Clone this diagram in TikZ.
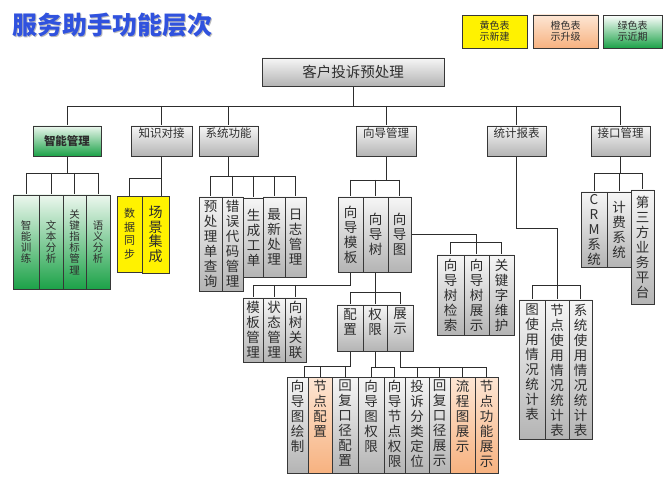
\documentclass[tikz,border=0pt]{standalone}
\usepackage{fontspec}
\setmainfont{Noto Sans CJK SC}
\usetikzlibrary{shadows,backgrounds}
\definecolor{titleblue}{RGB}{48,82,222}
\definecolor{gTop}{RGB}{246,246,246}
\definecolor{gBot}{RGB}{180,180,180}
\definecolor{grTop}{RGB}{236,247,238}
\definecolor{grBot}{RGB}{28,162,72}
\definecolor{oTop}{RGB}{253,230,212}
\definecolor{oBot}{RGB}{247,178,128}
\definecolor{boxline}{RGB}{55,55,55}
\definecolor{lineC}{RGB}{45,45,45}
\definecolor{txt}{RGB}{45,45,45}
\newcommand\fs[2]{\fontsize{#1}{#2}\selectfont}
\newcommand\mybox[6]{\node[#2, minimum width={(#5)-(#3)}, minimum height={(#6)-(#4)}] (#1) at (#3,#4) {};}
\newcommand\ctext[3]{\node[#2] (#1t) at (#1.center) {#3};}
\newcommand\ttext[4]{\node[#2, anchor=north] (#1t) at ([yshift=-#3pt]#1.north) {#4};}
\begin{document}
\begin{tikzpicture}[x=1pt,y=-1pt,
 bx/.style={draw=boxline, line width=0.8pt, inner sep=0pt, outer sep=0pt, anchor=north west,
   drop shadow={shadow xshift=1.2pt, shadow yshift=-1.2pt, opacity=0.3}},
 gbx/.style={bx, top color=gTop, bottom color=gBot},
 grbx/.style={bx, top color=grTop, bottom color=grBot},
 obx/.style={bx, top color=oTop, bottom color=oBot},
 ybx/.style={bx, fill=yellow},
 lgbx/.style={bx, top color=white, bottom color=grBot},
 vt/.style={align=center, inner sep=0pt, text=txt, font=\fs{13.5}{15}},
 vts/.style={vt, font=\fs{10.5}{11.2}},
 ht/.style={inner sep=0pt, text=txt, font=\fs{11.5}{13}},
 lt/.style={align=center, inner sep=0pt, text=txt, font=\fs{10}{11}},
 conn/.style={draw=lineC, line width=0.9pt},
]
\useasboundingbox (0,0) rectangle (665,484);
\begin{scope}[on background layer]
\fill[white] (0,0) rectangle (665,484);
\end{scope}

% title
\node[anchor=west, inner sep=0pt, text=gray!55, font=\fs{25}{25}\bfseries] (titlesh) at (13.5,26.5) {服务助手功能层次};
\node[anchor=west, inner sep=0pt, text=titleblue, font=\fs{25}{25}\bfseries] (title) at (12,25) {服务助手功能层次};

% legend
\mybox{leg1}{ybx}{462}{15}{527}{48}
\mybox{leg2}{obx}{533}{15}{598}{48}
\mybox{leg3}{lgbx}{603}{15}{662}{48}
\ctext{leg1}{lt}{黄色表\\示新建}
\ctext{leg2}{lt}{橙色表\\示升级}
\ctext{leg3}{lt}{绿色表\\示近期}

% root
\mybox{root}{gbx}{262}{58}{444}{86}
\ctext{root}{ht, font=\fs{14.5}{16}}{客户投诉预处理}

% level 1
\mybox{l1a}{grbx}{33}{126}{101}{156}
\mybox{l1b}{gbx}{131}{126}{192}{156}
\mybox{l1c}{gbx}{199}{126}{258}{156}
\mybox{l1d}{gbx}{356}{126}{416}{156}
\mybox{l1e}{gbx}{487}{126}{546}{156}
\mybox{l1f}{gbx}{591}{126}{650}{156}
\ctext{l1a}{ht, font=\fs{11.5}{13}\bfseries}{智能管理}
\ttext{l1b}{ht}{2}{知识对接}
\ttext{l1c}{ht}{2}{系统功能}
\ttext{l1d}{ht}{2}{向导管理}
\ttext{l1e}{ht}{2}{统计报表}
\ttext{l1f}{ht}{2}{接口管理}

% group A
\mybox{a1}{grbx}{13}{195}{39}{289}
\mybox{a2}{grbx}{39}{195}{63}{289}
\mybox{a3}{grbx}{63}{195}{86}{289}
\mybox{a4}{grbx}{86}{195}{110}{289}
\ctext{a1}{vts}{智\\能\\训\\练}
\ctext{a2}{vts}{文\\本\\分\\析}
\ctext{a3}{vts}{关\\键\\指\\标\\管\\理}
\ctext{a4}{vts}{语\\义\\分\\析}

% group B
\mybox{b1}{ybx}{117}{196}{142}{272}
\mybox{b2}{ybx}{142}{196}{169}{273}
\ctext{b1}{vt, font=\fs{11}{13.5}}{数\\据\\同\\步}
\ctext{b2}{vt, font=\fs{14}{14.5}}{场\\景\\集\\成}

% group C
\mybox{c3}{gbx}{243}{198}{264}{277}
\mybox{c1}{gbx}{199}{197}{222}{291}
\mybox{c2}{gbx}{222}{197}{243}{291}
\mybox{c4}{gbx}{263}{197}{285}{277}
\mybox{c5}{gbx}{285}{197}{306}{277}
\ctext{c1}{vt}{预\\处\\理\\单\\查\\询}
\ctext{c2}{vt}{错\\误\\代\\码\\管\\理}
\ctext{c3}{vt}{生\\成\\工\\单}
\ctext{c4}{vt}{最\\新\\处\\理}
\ctext{c5}{vt}{日\\志\\管\\理}

% group D
\mybox{d1}{gbx}{338}{197}{363}{272}
\mybox{d2}{gbx}{363}{197}{388}{272}
\mybox{d3}{gbx}{388}{197}{411}{272}
\ctext{d1}{vt}{向\\导\\模\\板}
\ctext{d2}{vt}{向\\导\\树}
\ctext{d3}{vt}{向\\导\\图}

% group E (under 向导模板)
\mybox{e1}{gbx}{243}{298}{263}{362}
\mybox{e2}{gbx}{263}{298}{285}{362}
\mybox{e3}{gbx}{285}{298}{306}{362}
\ctext{e1}{vt}{模\\板\\管\\理}
\ctext{e2}{vt}{状\\态\\管\\理}
\ctext{e3}{vt}{向\\树\\关\\联}

% group F (under 向导树)
\mybox{f1}{gbx}{337}{305}{363}{351}
\mybox{f2}{gbx}{363}{305}{387}{351}
\mybox{f3}{gbx}{387}{305}{413}{351}
\ttext{f1}{vt}{3}{配\\置}
\ttext{f2}{vt}{3}{权\\限}
\ttext{f3}{vt}{3}{展\\示}

% group G (under 向导图)
\mybox{g1}{gbx}{437}{255}{464}{335}
\mybox{g2}{gbx}{464}{255}{489}{335}
\mybox{g3}{gbx}{489}{255}{514}{335}
\ctext{g1}{vt}{向\\导\\树\\检\\索}
\ctext{g2}{vt}{向\\导\\树\\展\\示}
\ctext{g3}{vt}{关\\键\\字\\维\\护}

% bottom row
\mybox{h1}{gbx}{287}{377}{308}{473}
\mybox{h2}{obx}{308}{377}{332}{473}
\mybox{h3}{gbx}{332}{377}{358}{473}
\mybox{i1}{gbx}{358}{377}{384}{473}
\mybox{i2}{gbx}{384}{377}{405}{473}
\mybox{j1}{gbx}{405}{377}{429}{473}
\mybox{j2}{gbx}{429}{377}{450}{473}
\mybox{j3}{obx}{450}{377}{475}{473}
\mybox{j4}{obx}{475}{377}{498}{473}
\ttext{h1}{vt}{3}{向\\导\\图\\绘\\制}
\ttext{h2}{vt}{3}{节\\点\\配\\置}
\ttext{h3}{vt}{3}{回\\复\\口\\径\\配\\置}
\ttext{i1}{vt}{3}{向\\导\\图\\权\\限}
\ttext{i2}{vt}{3}{向\\导\\节\\点\\权\\限}
\ttext{j1}{vt}{3}{投\\诉\\分\\类\\定\\位}
\ttext{j2}{vt}{3}{回\\复\\口\\径\\展\\示}
\ttext{j3}{vt}{3}{流\\程\\图\\展\\示}
\ttext{j4}{vt}{3}{节\\点\\功\\能\\展\\示}

% group K (统计报表)
\mybox{k1}{gbx}{519}{300}{545}{439}
\mybox{k2}{gbx}{545}{300}{569}{439}
\mybox{k3}{gbx}{569}{300}{592}{439}
\ttext{k1}{vt}{4}{图\\使\\用\\情\\况\\统\\计\\表}
\ttext{k2}{vt}{4}{节\\点\\使\\用\\情\\况\\统\\计\\表}
\ttext{k3}{vt}{4}{系\\统\\使\\用\\情\\况\\统\\计\\表}

% group M (接口管理)
\mybox{m1}{gbx}{581}{192}{607}{267}
\mybox{m2}{gbx}{607}{192}{631}{267}
\mybox{m3}{gbx}{631}{190}{654}{304}
\ctext{m1}{vt}{C\\R\\M\\系\\统}
\ctext{m2}{vt}{计\\费\\系\\统}
\ctext{m3}{vt}{第\\三\\方\\业\\务\\平\\台}

% connectors
\begin{scope}[on background layer]
\coordinate (busT) at (0,106);
\draw[conn] (root.south) -- (root.south |- busT);
\draw[conn] (l1a.north |- busT) -- (l1f.north |- busT);
\foreach \n in {l1a,l1b,l1c,l1d,l1e,l1f} \draw[conn] (\n.north |- busT) -- (\n.north);

\coordinate (busA) at (0,173);
\draw[conn] (l1a.south) -- (l1a.south |- busA);
\draw[conn] (a1.north |- busA) -- (a4.north |- busA);
\foreach \n in {a1,a2,a3,a4} \draw[conn] (\n.north |- busA) -- (\n.north);

\coordinate (busB) at (0,178);
\draw[conn] (l1b.south) -- (l1b.south |- b2.north);
\draw[conn] (b1.north) |- (l1b.south |- busB);

\coordinate (busC) at (0,176);
\draw[conn] (l1c.south) -- (l1c.south |- busC);
\draw[conn] (c1.north |- busC) -- (c5.north |- busC);
\foreach \n in {c1,c2,c3,c4,c5} \draw[conn] (\n.north |- busC) -- (\n.north);

\coordinate (busD) at (0,180);
\draw[conn] (l1d.south) -- (l1d.south |- busD);
\draw[conn] (d1.north |- busD) -- (d3.north |- busD);
\foreach \n in {d1,d2,d3} \draw[conn] (\n.north |- busD) -- (\n.north);

\coordinate (busE) at (0,285);
\draw[conn] (d1.south) |- (e1.north |- busE) -- (e1.north);
\foreach \n in {e2,e3} \draw[conn] (\n.north |- busE) -- (\n.north);

\coordinate (busF) at (0,292);
\draw[conn] (d2.south) -- (d2.south |- busF);
\draw[conn] (f1.north |- busF) -- (f3.north |- busF);
\foreach \n in {f1,f2,f3} \draw[conn] (\n.north |- busF) -- (\n.north);

\coordinate (busG) at (0,242);
\draw[conn] (d3.east) -| (g2.north);
\draw[conn] (g1.north) |- (g3.north |- busG) -- (g3.north);

\coordinate (busH) at (0,366);
\draw[conn] (f1.south) -- (f1.south |- busH) -- ([xshift=7pt]h1.north |- busH) -- ([xshift=7pt]h1.north);
\foreach \n in {h2,h3} \draw[conn] (\n.north |- busH) -- (\n.north);

\coordinate (busI) at (0,367);
\draw[conn] (f2.south) -- (f2.south |- busI);
\draw[conn] (i1.north) |- (i2.north |- busI) -- (i2.north);

\coordinate (busJ) at (0,367);
\draw[conn] (f3.south) -- (f3.south |- busJ) -- (j4.north |- busJ);
\foreach \n in {j1,j2,j3,j4} \draw[conn] (\n.north |- busJ) -- (\n.north);

\coordinate (busK1) at (0,228);
\coordinate (busK2) at (0,285);
\draw[conn] (l1e.south) |- (k2.north |- busK1) -- (k2.north);
\draw[conn] (k1.north) |- (k3.north |- busK2) -- (k3.north);

\coordinate (busM) at (0,173);
\draw[conn] (l1f.south) -- (l1f.south |- busM);
\draw[conn] (m1.north |- busM) -- (m3.north |- busM);
\foreach \n in {m1,m2,m3} \draw[conn] (\n.north |- busM) -- (\n.north);
\end{scope}
\end{tikzpicture}
\end{document}
